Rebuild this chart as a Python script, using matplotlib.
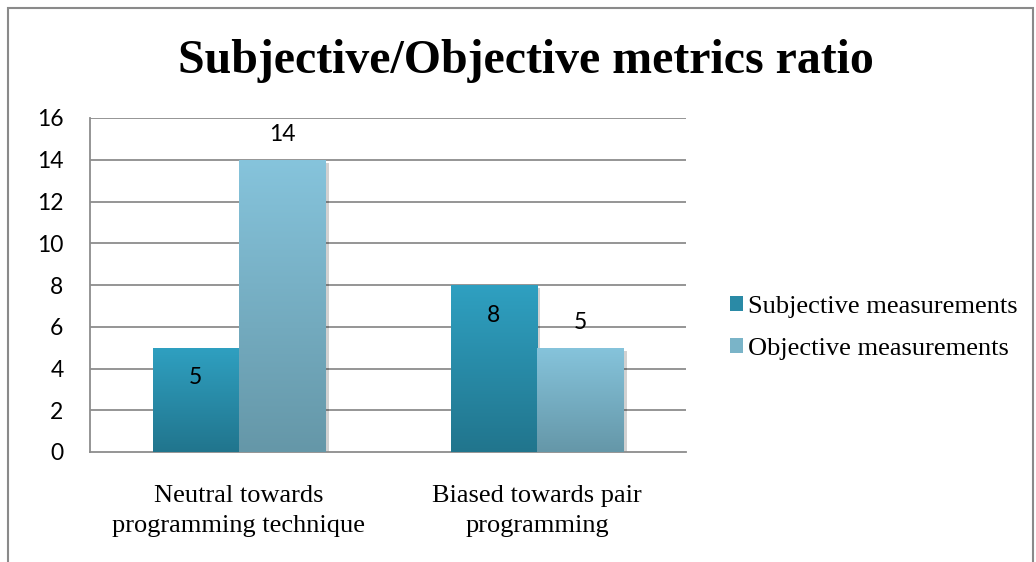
import numpy as np
import matplotlib
matplotlib.use("Agg")
import matplotlib.pyplot as plt
from matplotlib.patches import Rectangle, Patch
from matplotlib.colors import LinearSegmentedColormap
import matplotlib.patheffects as pe

categories = ["Neutral towards\nprogramming technique", "Biased towards pair\nprogramming"]
series_names = ["Subjective measurements", "Objective measurements"]
subjective = [5, 8]
objective = [14, 5]
yticks = [0, 2, 4, 6, 8, 10, 12, 14, 16]
title = "Subjective/Objective metrics ratio"

fig = plt.figure(figsize=(10.36, 5.62), dpi=100)
W, H = 1036, 562

# outer chart frame
fig.patches.append(Rectangle((8 / W, -0.05), (1033 - 8) / W, (H - 8) / H + 0.05,
                             transform=fig.transFigure, fill=False,
                             edgecolor="#8a8a8a", linewidth=1.5))

ax = fig.add_axes([90 / W, 110 / H, 596 / W, 334 / H])

grid_c = "#8c8c8c"
for s in ["top", "right"]:
    ax.spines[s].set_visible(False)
ax.spines["left"].set_color(grid_c)
ax.spines["bottom"].set_color(grid_c)
ax.spines["left"].set_linewidth(1.3)
ax.spines["bottom"].set_linewidth(1.3)
ax.set_yticks(yticks)
ax.set_yticklabels([str(t) for t in yticks], fontfamily="Lato", fontsize=16.5)
ax.tick_params(axis="y", length=0, pad=19)
ax.tick_params(axis="x", length=0, pad=24)
for t in yticks[1:]:
    ax.axhline(t, color=grid_c, linewidth=1.3, zorder=0)

x = np.arange(len(categories))
bw = 0.29

subj_cmap = LinearSegmentedColormap.from_list("s", ["#21758d", "#2fa0c1"])
obj_cmap = LinearSegmentedColormap.from_list("o", ["#6597a8", "#86c4dc"])
shadow = [pe.SimplePatchShadow(offset=(2.5, -2.5), shadow_rgbFace="#000000", alpha=0.18), pe.Normal()]

def grad_bars(xs, vals, cmap, color):
    bars = ax.bar(xs, vals, width=bw, color=color, zorder=2, linewidth=0)
    for b in bars:
        b.set_path_effects(shadow)
        x0, y0 = b.get_x(), b.get_y()
        w, h = b.get_width(), b.get_height()
        grad = np.linspace(0, 1, 256).reshape(-1, 1)
        im = ax.imshow(grad, cmap=cmap, origin="lower", aspect="auto",
                       extent=(x0, x0 + w, y0, y0 + h), zorder=3)
        im.set_clip_path(b)
    return bars

b1 = grad_bars(x - bw / 2, subjective, subj_cmap, "#2a8daa")
b2 = grad_bars(x + bw / 2, objective, obj_cmap, "#78b0c4")
ax.set_xlim(-0.5, 1.5)
ax.set_ylim(0, 16)

# data labels
for b, v in zip(b1, subjective):
    ax.text(b.get_x() + b.get_width() / 2, v - 1.45, str(v), ha="center", va="center",
            fontfamily="Lato", fontsize=16.5, zorder=5)
for b, v in zip(b2, objective):
    ax.text(b.get_x() + b.get_width() / 2, v + 1.2, str(v), ha="center", va="center",
            fontfamily="Lato", fontsize=16.5, zorder=5)

ax.set_xticks(x)
ax.set_xticklabels(categories, fontfamily="Liberation Serif", fontsize=19, linespacing=1.45)

fig.text(526 / W, 1 - 73 / H, title, ha="center", va="baseline",
         fontfamily="Liberation Serif", fontweight="bold", fontsize=34.5)

# legend
handles = [Patch(facecolor="#2a8aa6", edgecolor="none"), Patch(facecolor="#7ab4c8", edgecolor="none")]
fig.legend(handles, series_names, loc="center left", bbox_to_anchor=(706 / W, 1 - 328 / H),
           frameon=False, prop={"family": "Liberation Serif", "size": 19},
           handlelength=0.5, handleheight=0.5, handletextpad=0.2, labelspacing=0.75)

fig.savefig("out.png", dpi=100)
